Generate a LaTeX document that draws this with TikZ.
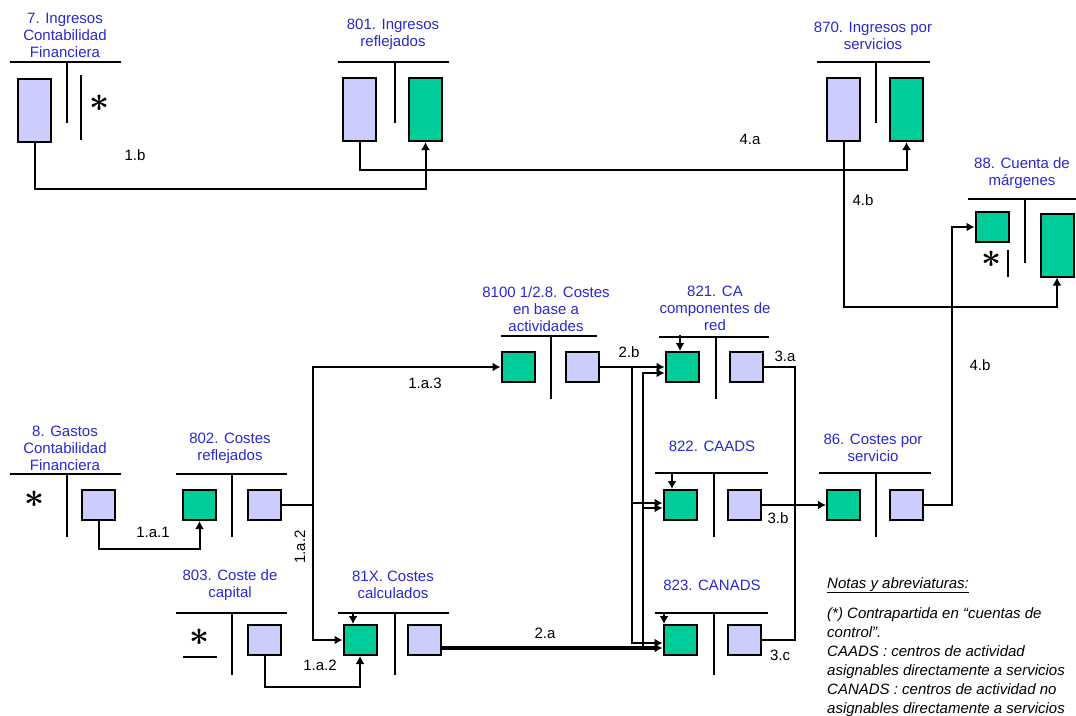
\documentclass[tikz,border=0pt]{standalone}
\usepackage{bm}
\usepackage{graphicx}
\usepackage{fontspec}
\setmainfont{Liberation Sans}
\usetikzlibrary{arrows.meta}
\definecolor{lav}{RGB}{204,204,255}
\definecolor{grn}{RGB}{0,204,153}
\definecolor{ttl}{RGB}{40,40,210}
\newcommand{\bigstar}{\scalebox{1.4}{$\bm{\ast}$}}
\begin{document}
\begin{tikzpicture}[x=1pt,y=-1pt]
    \tikzset{Lav/.style={%
        draw=black,%
        fill=lav,%
        line width=2pt,%
        minimum width=33pt,%
        minimum height=30pt,%
        inner sep=0pt,%
    },
    Grn/.style={Lav, fill=grn},
    Tall/.style={minimum height=63pt},
    Title/.style={text=ttl, align=center, inner sep=0pt, font=\fontsize{15}{17}\selectfont},
    Lbl/.style={inner sep=0pt, font=\fontsize{15}{17}\selectfont},
    Note/.style={inner sep=0pt, font=\itshape\fontsize{15}{19}\selectfont},
    Star/.style={inner sep=0pt, font=\fontsize{24}{24}\selectfont},
    Tee/.style={line width=2pt},
    Flow/.style={-{Latex[length=8pt,width=9pt]}, line width=2pt},
    }
    \useasboundingbox (0,0) rectangle (1076,715);

    % titles
    \node[Title] (t7) at (65,35) {7. Ingresos\\Contabilidad\\Financiera};
    \node[Title] (t801) at (393,34) {801. Ingresos\\reflejados};
    \node[Title] (t870) at (873,36) {870. Ingresos por\\servicios};
    \node[Title] (t88) at (1022,173) {88. Cuenta de\\márgenes};
    \node[Title] (tABC) at (546,309) {8100 1/2.8. Costes\\en base a\\actividades};
    \node[Title] (t821) at (715,308) {821. CA\\componentes de\\red};
    \node[Title] (t822) at (712,446) {822. CAADS};
    \node[Title] (t823) at (712,585) {823. CANADS};
    \node[Title] (t86) at (873,448) {86. Costes por\\servicio};
    \node[Title] (t8) at (65,448) {8. Gastos\\Contabilidad\\Financiera};
    \node[Title] (t802) at (230,448) {802. Costes\\reflejados};
    \node[Title] (t803) at (230,585) {803. Coste de\\capital};
    \node[Title] (t81) at (393,585) {81X. Costes\\calculados};

    % accounts
    \draw[Tee] (10,62) -- (121,62) (67,62) -- (67,123) (81,75) -- (81,140);
    \node[Lav, Tall] (a7l) at (34.5,110) {};
    \node[Star] (s7) at (100,103) {\bigstar};

    \draw[Tee] (338,62) -- (449,62) (395,62) -- (395,123);
    \node[Lav, Tall] (a801l) at (359.5,109.5) {};
    \node[Grn, Tall] (a801r) at (425.5,109.5) {};

    \draw[Tee] (817,62) -- (930,62) (876,62) -- (876,123);
    \node[Lav, Tall] (a870l) at (843.5,109.5) {};
    \node[Grn, Tall] (a870r) at (906.5,109.5) {};

    \draw[Tee] (968,199) -- (1076,199) (1025,199) -- (1025,263) (1008,250) -- (1008,277);
    \node[Grn] (a88l) at (992,227) {};
    \node[Grn, Tall] (a88r) at (1057,245) {};
    \node[Star] (s88) at (992,259) {\bigstar};

    \draw[Tee] (501,336) -- (597,336) (551,336) -- (551,399);
    \node[Grn] (aABCl) at (518,367) {};
    \node[Lav] (aABCr) at (582,367) {};

    \draw[Tee] (659,337) -- (769,337) (716,337) -- (716,399);
    \node[Grn] (a821l) at (682,367) {};
    \node[Lav] (a821r) at (746,367) {};

    \draw[Tee] (655,473) -- (768,473) (714,473) -- (714,537);
    \node[Grn] (a822l) at (680,505) {};
    \node[Lav] (a822r) at (744,505) {};

    \draw[Tee] (655,613) -- (768,613) (714,613) -- (714,675);
    \node[Grn] (a823l) at (680,640) {};
    \node[Lav] (a823r) at (744,640) {};

    \draw[Tee] (819,473) -- (931,473) (876,473) -- (876,537);
    \node[Grn] (a86l) at (843.5,505) {};
    \node[Lav] (a86r) at (906.5,505) {};

    \draw[Tee] (10,474) -- (121,474) (67,474) -- (67,537);
    \node[Star] (s8) at (35,499) {\bigstar};
    \node[Lav] (a8r) at (98.5,505) {};

    \draw[Tee] (176,474) -- (287,474) (232,474) -- (232,537);
    \node[Grn] (a802l) at (199.5,505) {};
    \node[Lav] (a802r) at (264.5,505) {};

    \draw[Tee] (176,613) -- (287,613) (232,613) -- (232,675) (183,657) -- (217,657);
    \node[Star] (s803) at (200,637) {\bigstar};
    \node[Lav] (a803r) at (264.5,640) {};

    \draw[Tee] (338,613) -- (449,613) (395,613) -- (395,675);
    \node[Grn] (a81l) at (360,640) {};
    \node[Lav] (a81r) at (424.5,640) {};

    % flows
    \coordinate (j802) at (313,505);
    \coordinate (jB) at (632,367);
    \coordinate (jA) at (643,648);
    \coordinate (jC) at (795,505);

    \draw[Flow] (a7l.south) -- ++(0,46) -| (a801r.south);
    \draw[Flow] (a801l.south) -- ++(0,28) -| (a870r.south);
    \draw[Flow] (a870l.south) -- ++(0,165) -| (a88r.south);
    \draw[Flow] (a86r.east) -- ++(28,0) |- (a88l.west);

    \draw[Flow] (a8r.south) -- ++(0,28) -| (a802l.south);
    \draw[Tee] (a802r.east) -- (j802);
    \draw[Flow] (j802) |- (aABCl.west);
    \draw[Flow] (j802) |- (a81l.west);
    \draw[Flow] (a803r.south) -- ++(0,31) -| (a81l.south);

    \draw[Flow] (a81l.north) ++(-7,-12) -- +(0,12);
    \draw[Flow] (a821l.north) ++(-2,-16) -- +(0,16);
    \draw[Flow] (a822l.north) ++(-8,-17) -- +(0,17);
    \draw[Flow] (a823l.north) ++(-16,-12) -- +(0,12);

    \draw[Flow] (aABCr.east) -- (a821l.west);
    \draw[Flow] (jB) |- ([yshift=2pt]a822l.west);
    \draw[Flow] (jB) |- ([yshift=-3pt]a823l.west);
    \draw[Flow, line width=3.5pt] (a81r.east |- jA) -- ([yshift=-8pt]a823l.west);
    \draw[Flow] (jA) |- ([yshift=-6pt]a821l.west);
    \draw[Flow] (jA) |- ([yshift=-3pt]a822l.west);

    \draw[Tee] (a821r.east) -| (jC);
    \draw[Tee] (a823r.east) -| (jC);
    \draw[Flow] (a822r.east) -- (a86l.west);

    % labels
    \node[Lbl] (l1b) at (135,155) {1.b};
    \node[Lbl] (l4a) at (750,139) {4.a};
    \node[Lbl] (l4b) at (863,200) {4.b};
    \node[Lbl] (l4b2) at (980,365) {4.b};
    \node[Lbl] (l1a1) at (153,532) {1.a.1};
    \node[Lbl, rotate=90] (l1a2v) at (300,547) {1.a.2};
    \node[Lbl] (l1a2) at (320,665) {1.a.2};
    \node[Lbl] (l1a3) at (425,383) {1.a.3};
    \node[Lbl] (l2a) at (545,633) {2.a};
    \node[Lbl] (l2b) at (629,352) {2.b};
    \node[Lbl] (l3a) at (785,356) {3.a};
    \node[Lbl] (l3b) at (778,518) {3.b};
    \node[Lbl] (l3c) at (780,655) {3.c};

    % notes
    \node[Note, anchor=base west] (nh) at (827,588) {\underline{Notas y abreviaturas:}};
    \node[Note, anchor=north west, align=left] (nb) at (827,607) {(*) Contrapartida en “cuentas de\\control”.\\CAADS : centros de actividad\\asignables directamente a servicios\\CANADS : centros de actividad no\\asignables directamente a servicios};
\end{tikzpicture}
\end{document}
